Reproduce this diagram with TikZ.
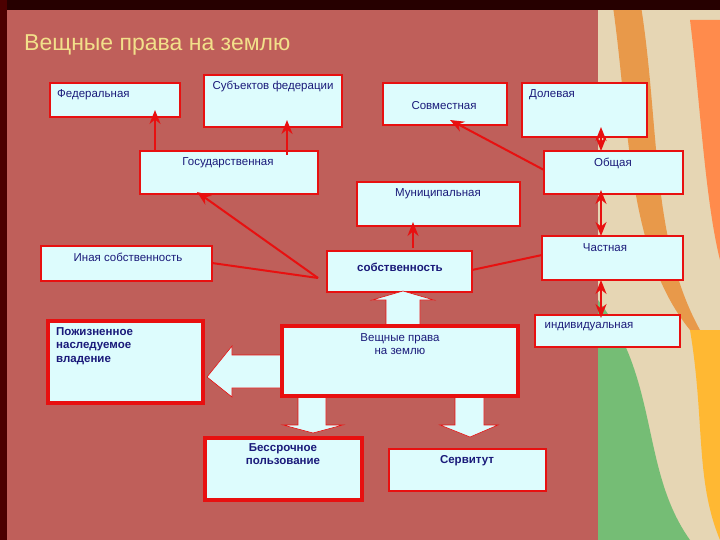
\documentclass[tikz,border=0pt]{standalone}
\usepackage{fontspec}
\setmainfont{Liberation Sans}
\usetikzlibrary{arrows.meta,shapes.arrows}
\definecolor{bg}{HTML}{BF5F5A}
\definecolor{boxc}{HTML}{DDFCFD}
\definecolor{txt}{HTML}{1A1A7A}
\definecolor{ttl}{HTML}{F2E08A}
\definecolor{rd}{HTML}{E81010}
\definecolor{beige}{HTML}{E6D6B4}
\tikzset{
 bx/.style={draw=rd,fill=boxc,line width=1.6pt},
 tbx/.style={draw=rd,fill=boxc,line width=3.5pt},
 lbl/.style={text=txt,font=\fontsize{11.5}{13.5}\selectfont,inner sep=0pt},
 blbl/.style={text=txt,font=\fontsize{11.5}{13.5}\selectfont\bfseries,inner sep=0pt,align=center},
 ar/.style={draw=rd,line width=2pt,-{Stealth[length=14pt,width=11pt]}},
 arr2/.style={draw=rd,line width=2pt,{Stealth[length=14pt,width=11pt]}-{Stealth[length=14pt,width=11pt]}},
 blk/.style={fill=boxc,draw=rd,line width=0.6pt}
}
\begin{document}
\begin{tikzpicture}[x=1pt,y=-1pt]
\useasboundingbox (0,0) rectangle (720,540);
\fill[bg] (0,0) rectangle (720,540);
% decorative right strip
\fill[beige] (598,0) rectangle (720,540);
\fill[orange!55!brown!80!white] (612,0) .. controls (630,120) and (625,250) .. (690,330) -- (700,330) .. controls (650,240) and (660,120) .. (640,0) -- cycle;
\fill[orange!70!red!70!white] (690,20) .. controls (700,100) and (705,200) .. (720,260) -- (720,20) -- cycle;
\fill[green!35!gray!80!white] (598,300) .. controls (660,380) and (640,470) .. (690,540) -- (598,540) -- cycle;
\fill[orange!70!yellow!80!white] (690,330) .. controls (705,420) and (695,480) .. (720,540) -- (720,330) -- cycle;
\fill[black!85!red] (0,0) rectangle (720,10);
\fill[black!70!red] (0,0) rectangle (7,540);
\node[anchor=west,text=ttl,font=\fontsize{23}{26}\selectfont,inner sep=0pt] (title) at (24,45) {Вещные права на землю};
% boxes
\draw[bx] (50,83) rectangle (180,117); \node[lbl,anchor=west] (fed) at (57,95) {Федеральная};
\coordinate (fedb) at (155,110);
\draw[bx] (204,75) rectangle (342,127); \node[lbl] (sub) at (273,86) {Субъектов федерации};
\coordinate (subb) at (287,120);
\draw[bx] (383,83) rectangle (507,125); \node[lbl] (sovm) at (444,106) {Совместная};
\coordinate (sovb) at (450,120);
\draw[bx] (522,83) rectangle (647,137); \node[lbl] (dol) at (552,95) {Долевая};
\coordinate (dolb) at (601,127);
\draw[bx] (140,151) rectangle (318,194); \node[lbl] (gos) at (228,163) {Государственная};
\coordinate (gost1) at (155,151); \coordinate (gost2) at (287,155); \coordinate (gosb) at (197,192);
\draw[bx] (544,151) rectangle (683,194); \node[lbl] (obsh) at (613,163) {Общая};
\coordinate (obt) at (601,151); \coordinate (obl) at (544,170); \coordinate (obb) at (601,190);
\draw[bx] (357,182) rectangle (520,226); \node[lbl] (mun) at (438,194) {Муниципальная};
\coordinate (munb) at (413,222);
\draw[bx] (41,246) rectangle (212,281); \node[lbl] (ina) at (128,257) {Иная собственность};
\coordinate (inar) at (212,263);
\draw[bx] (327,251) rectangle (472,292); \node[blbl] (sob) at (400,267) {собственность};
\coordinate (sobt) at (413,251); \coordinate (conv) at (318,278); \coordinate (sobr) at (472,270);
\draw[bx] (542,236) rectangle (683,280); \node[lbl] (chast) at (605,248) {Частная};
\coordinate (cht) at (601,236); \coordinate (chb) at (601,280); \coordinate (chl) at (542,255);
\draw[bx] (535,315) rectangle (680,347); \node[lbl] (ind) at (589,327) {индивидуальная};
\coordinate (indt) at (601,318);
\draw[tbx] (48,321) rectangle (203,403); \node[blbl,anchor=north west,align=left] (pozh) at (56,327) {Пожизненное\\наследуемое\\владение};
% block arrows
\fill[blk] (386,327) -- (386,300) -- (372,300) -- (403,291) -- (434,300) -- (420,300) -- (420,327) -- cycle;
\fill[blk] (284,355) -- (232,355) -- (232,346) -- (207,377) -- (232,397) -- (232,388) -- (284,388) -- cycle;
\fill[blk] (298,395) -- (298,425) -- (283,425) -- (313,433) -- (343,425) -- (326,425) -- (326,395) -- cycle;
\fill[blk] (455,395) -- (455,425) -- (440,425) -- (470,437) -- (498,425) -- (484,425) -- (484,395) -- cycle;
\draw[tbx] (282,326) rectangle (518,396); \node[lbl,align=center,anchor=north] (vesh) at (400,333) {Вещные права\\на землю};
\draw[tbx] (205,438) rectangle (362,500); \node[blbl,anchor=north] (bess) at (283,443) {Бессрочное\\пользование};
\draw[bx] (389,449) rectangle (546,491); \node[blbl] (serv) at (467,461) {Сервитут};
% connectors
\draw[ar] (gost1) -- (fedb);
\draw[ar] (gost2) -- (subb);
\draw[ar] (obl) -- (sovb);
\draw[arr2] (obt) -- (dolb);
\draw[arr2] (cht) -- (obb);
\draw[arr2] (chb) -- (indt);
\draw[ar] (sobt) ++(0,-3) -- (munb);
\draw[ar] (conv) -- (gosb);
\draw[draw=rd,line width=2pt] (inar) -- (conv);
\draw[draw=rd,line width=2pt] (chl) -- (sobr);
\end{tikzpicture}
\end{document}
